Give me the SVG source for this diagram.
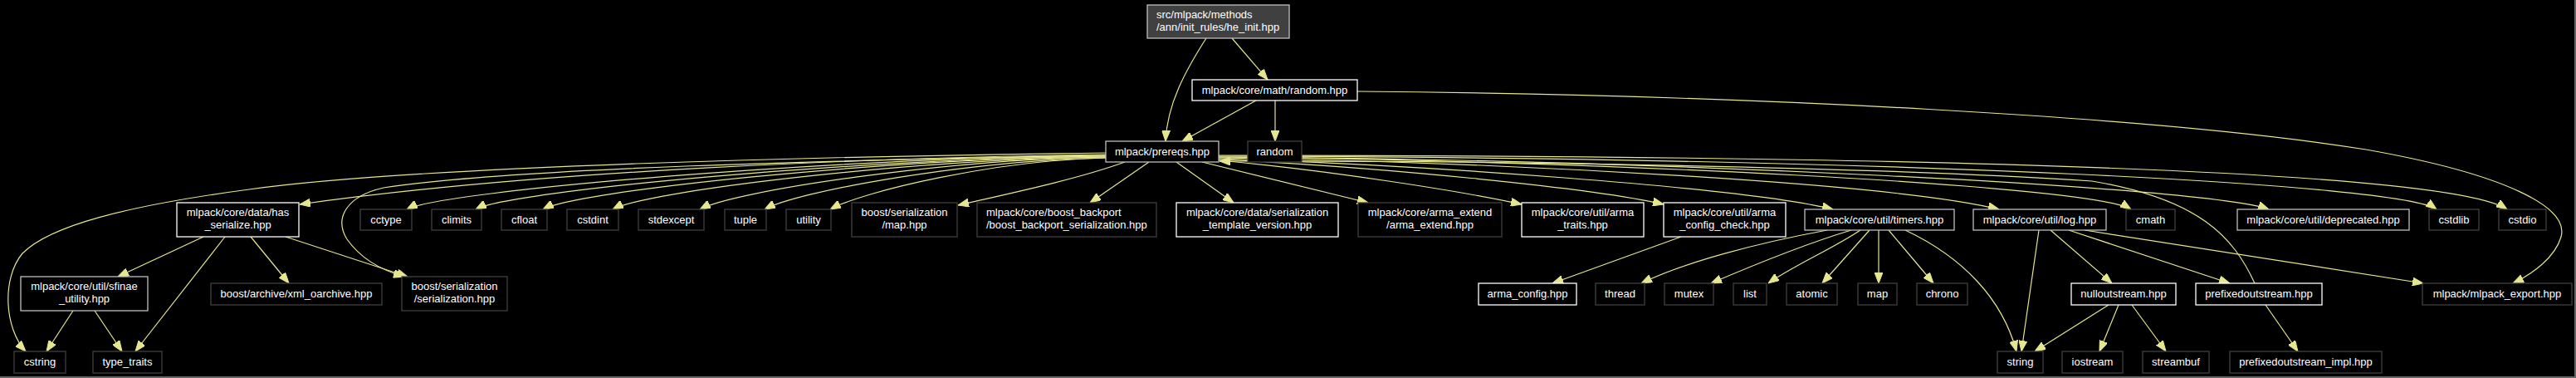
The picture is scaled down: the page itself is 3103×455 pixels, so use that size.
<svg xmlns="http://www.w3.org/2000/svg" width="3103" height="455" viewBox="0 0 3103 455">
<defs>
<style>
.n rect{fill:#000;stroke-width:1.3}
.w rect{stroke:#ffffff}
.g rect{stroke:#bfbfbf}
.x rect{stroke:#404040}
.r rect{fill:#404040;stroke:#bfbfbf}
text{font-family:"Liberation Sans",Arial,Helvetica,sans-serif;font-size:13px;fill:#ffffff}
.c{text-anchor:middle}
.e path{fill:none;stroke:#e6e68f;stroke-width:1.2;marker-end:url(#a)}
</style>
<marker id="a" viewBox="0 0 13 10" refX="13" refY="5" markerWidth="13" markerHeight="10" markerUnits="userSpaceOnUse" orient="auto">
<path d="M0,0 L13,5 L0,10 z" fill="#e6e68f" stroke="#e6e68f" stroke-width="1"/>
</marker>
</defs>
<rect x="0" y="0" width="3103" height="455" fill="#000000"/>
<path d="M3102,0 V454 H0" fill="none" stroke="#666666" stroke-width="2"/>

<g id="edges" class="e">
<path d="M1453,46 C1428,85 1406,125 1404,170"/>
<path d="M1484,46 L1527,96"/>
<path d="M1513,121 L1424,170"/>
<path d="M1536,121 L1536,170"/>
<path d="M1635,110 C2100,114 2600,140 2850,180 C3020,210 3095,250 3085,285 C3078,310 3050,330 3027,341"/>
<path d="M1332,184 C1000,188 500,200 300,228 C150,248 60,272 27,305 C2,335 5,395 31,423"/>
<path d="M1332,186 C1050,190 650,205 361,246"/>
<path d="M1332,187 C1000,193 620,202 462,226 C418,236 402,262 418,288 C435,312 462,326 487,333"/>
<path d="M1332,187 C1000,190 530,230 490,252"/>
<path d="M1332,188 C1028,191 613,230 573,252"/>
<path d="M1332,188 C1061,191 694,230 654,252"/>
<path d="M1332,189 C1094,192 778,230 738,252"/>
<path d="M1332,189 C1136,192 883,230 843,252"/>
<path d="M1332,190 C1168,193 961,230 921,252"/>
<path d="M1332,190 C1199,193 1040,230 1000,252"/>
<path d="M1355,195 C1300,215 1220,232 1154,247"/>
<path d="M1384,195 L1313,244"/>
<path d="M1417,195 L1486,244"/>
<path d="M1448,195 L1648,244"/>
<path d="M1468,193 C1600,205 1760,230 1833,246"/>
<path d="M1468,192 C1650,200 1920,226 2004,246"/>
<path d="M1468,191 C1700,198 2100,225 2208,252"/>
<path d="M1468,190 C1800,195 2280,220 2408,252"/>
<path d="M1468,189 C1900,193 2520,222 2567,252"/>
<path d="M1468,189 C2000,192 2660,225 2733,252"/>
<path d="M1468,188 C2300,190 2895,222 2935,252"/>
<path d="M1468,187 C2300,187 2950,205 3020,252"/>
<path d="M2716,341 C2690,285 2650,240 2520,218 C2250,200 1750,193 1469,194"/>
<path d="M245,285 L142,333"/>
<path d="M271,285 L163,423"/>
<path d="M302,285 L348,341"/>
<path d="M344,285 L491,333"/>
<path d="M88,374 L56,423"/>
<path d="M114,374 L147,423"/>
<path d="M2025,285 L1870,341"/>
<path d="M2201,277 C2120,292 2030,315 1977,341"/>
<path d="M2230,277 C2170,295 2110,320 2061,341"/>
<path d="M2241,277 C2210,298 2160,320 2130,341"/>
<path d="M2252,277 L2195,341"/>
<path d="M2263,277 L2263,341"/>
<path d="M2275,277 L2329,341"/>
<path d="M2295,277 C2365,310 2412,360 2429,423"/>
<path d="M2456,277 L2435,423"/>
<path d="M2470,277 L2544,341"/>
<path d="M2492,277 L2686,341"/>
<path d="M2511,277 L2919,341"/>
<path d="M2540,367 L2451,423"/>
<path d="M2552,367 L2529,423"/>
<path d="M2568,367 L2609,423"/>
<path d="M2729,367 L2768,423"/>
</g>

<g id="he_init" class="n r"><rect x="1382" y="6" width="171" height="40"/><text x="1393" y="21.5">src/mlpack/methods</text><text x="1393" y="36.5">/ann/init_rules/he_init.hpp</text></g>
<g id="random_hpp" class="n w"><rect x="1436" y="96" width="199" height="25"/><text class="c" x="1535.5" y="112.5">mlpack/core/math/random.hpp</text></g>
<g id="prereqs" class="n g"><rect x="1332" y="170" width="136" height="25"/><text class="c" x="1400" y="186.5">mlpack/prereqs.hpp</text></g>
<g id="random" class="n x"><rect x="1503" y="170" width="65" height="25"/><text class="c" x="1535.5" y="186.5">random</text></g>

<g id="has_serialize" class="n w"><rect x="213" y="244" width="147" height="41"/><text class="c" x="286.5" y="259.5">mlpack/core/data/has</text><text class="c" x="286.5" y="274.5">_serialize.hpp</text></g>
<g id="cctype" class="n x"><rect x="434" y="252" width="62" height="25"/><text class="c" x="465" y="268.5">cctype</text></g>
<g id="climits" class="n x"><rect x="520" y="252" width="60" height="25"/><text class="c" x="550" y="268.5">climits</text></g>
<g id="cfloat" class="n x"><rect x="604" y="252" width="55" height="25"/><text class="c" x="631.5" y="268.5">cfloat</text></g>
<g id="cstdint" class="n x"><rect x="683" y="252" width="62" height="25"/><text class="c" x="714" y="268.5">cstdint</text></g>
<g id="stdexcept" class="n x"><rect x="769" y="252" width="79" height="25"/><text class="c" x="808.5" y="268.5">stdexcept</text></g>
<g id="tuple" class="n x"><rect x="873" y="252" width="50" height="25"/><text class="c" x="898" y="268.5">tuple</text></g>
<g id="utility" class="n x"><rect x="947" y="252" width="54" height="25"/><text class="c" x="974" y="268.5">utility</text></g>
<g id="serialization_map" class="n x"><rect x="1026" y="244" width="127" height="41"/><text class="c" x="1089.5" y="259.5">boost/serialization</text><text class="c" x="1089.5" y="274.5">/map.hpp</text></g>
<g id="boost_backport" class="n x"><rect x="1177" y="244" width="216" height="41"/><text x="1188" y="259.5">mlpack/core/boost_backport</text><text x="1188" y="274.5">/boost_backport_serialization.hpp</text></g>
<g id="template_version" class="n w"><rect x="1417" y="244" width="195" height="41"/><text class="c" x="1514.5" y="259.5">mlpack/core/data/serialization</text><text class="c" x="1514.5" y="274.5">_template_version.hpp</text></g>
<g id="arma_extend" class="n x"><rect x="1636" y="244" width="173" height="41"/><text class="c" x="1722.5" y="259.5">mlpack/core/arma_extend</text><text class="c" x="1722.5" y="274.5">/arma_extend.hpp</text></g>
<g id="arma_traits" class="n w"><rect x="1833" y="244" width="147" height="41"/><text class="c" x="1906.5" y="259.5">mlpack/core/util/arma</text><text class="c" x="1906.5" y="274.5">_traits.hpp</text></g>
<g id="arma_config_check" class="n w"><rect x="2004" y="244" width="147" height="41"/><text class="c" x="2077.5" y="259.5">mlpack/core/util/arma</text><text class="c" x="2077.5" y="274.5">_config_check.hpp</text></g>
<g id="timers" class="n g"><rect x="2174" y="252" width="180" height="25"/><text class="c" x="2264" y="268.5">mlpack/core/util/timers.hpp</text></g>
<g id="log" class="n g"><rect x="2377" y="252" width="160" height="25"/><text class="c" x="2457" y="268.5">mlpack/core/util/log.hpp</text></g>
<g id="cmath" class="n x"><rect x="2561" y="252" width="59" height="25"/><text class="c" x="2590.5" y="268.5">cmath</text></g>
<g id="deprecated" class="n g"><rect x="2695" y="252" width="207" height="25"/><text class="c" x="2798.5" y="268.5">mlpack/core/util/deprecated.hpp</text></g>
<g id="cstdlib" class="n x"><rect x="2926" y="252" width="60" height="25"/><text class="c" x="2956" y="268.5">cstdlib</text></g>
<g id="cstdio" class="n x"><rect x="3010" y="252" width="57" height="25"/><text class="c" x="3038.5" y="268.5">cstdio</text></g>

<g id="sfinae_utility" class="n g"><rect x="25" y="333" width="153" height="41"/><text class="c" x="101.5" y="348.5">mlpack/core/util/sfinae</text><text class="c" x="101.5" y="363.5">_utility.hpp</text></g>
<g id="xml_oarchive" class="n x"><rect x="254" y="341" width="206" height="26"/><text class="c" x="357" y="358">boost/archive/xml_oarchive.hpp</text></g>
<g id="serialization_hpp" class="n x"><rect x="484" y="333" width="127" height="41"/><text class="c" x="547.5" y="348.5">boost/serialization</text><text class="c" x="547.5" y="363.5">/serialization.hpp</text></g>
<g id="arma_config" class="n w"><rect x="1781" y="341" width="118" height="26"/><text class="c" x="1840" y="358">arma_config.hpp</text></g>
<g id="thread" class="n x"><rect x="1922" y="341" width="59" height="26"/><text class="c" x="1951.5" y="358">thread</text></g>
<g id="mutex" class="n x"><rect x="2005" y="341" width="59" height="26"/><text class="c" x="2034.5" y="358">mutex</text></g>
<g id="list" class="n x"><rect x="2088" y="341" width="40" height="26"/><text class="c" x="2108" y="358">list</text></g>
<g id="atomic" class="n x"><rect x="2152" y="341" width="61" height="26"/><text class="c" x="2182.5" y="358">atomic</text></g>
<g id="map" class="n x"><rect x="2238" y="341" width="47" height="26"/><text class="c" x="2261.5" y="358">map</text></g>
<g id="chrono" class="n x"><rect x="2309" y="341" width="61" height="26"/><text class="c" x="2339.5" y="358">chrono</text></g>
<g id="nulloutstream" class="n w"><rect x="2495" y="341" width="126" height="26"/><text class="c" x="2558" y="358">nulloutstream.hpp</text></g>
<g id="prefixedoutstream" class="n w"><rect x="2645" y="341" width="152" height="26"/><text class="c" x="2721" y="358">prefixedoutstream.hpp</text></g>
<g id="mlpack_export" class="n x"><rect x="2918" y="341" width="180" height="26"/><text class="c" x="3008" y="358">mlpack/mlpack_export.hpp</text></g>

<g id="cstring" class="n x"><rect x="17" y="423" width="62" height="26"/><text class="c" x="48" y="440">cstring</text></g>
<g id="type_traits" class="n x"><rect x="112" y="423" width="83" height="26"/><text class="c" x="153.5" y="440">type_traits</text></g>
<g id="string" class="n x"><rect x="2406" y="423" width="55" height="26"/><text class="c" x="2433.5" y="440">string</text></g>
<g id="iostream" class="n x"><rect x="2484" y="423" width="73" height="26"/><text class="c" x="2520.5" y="440">iostream</text></g>
<g id="streambuf" class="n x"><rect x="2581" y="423" width="80" height="26"/><text class="c" x="2621" y="440">streambuf</text></g>
<g id="prefixedoutstream_impl" class="n x"><rect x="2686" y="423" width="183" height="26"/><text class="c" x="2777.5" y="440">prefixedoutstream_impl.hpp</text></g>
</svg>
